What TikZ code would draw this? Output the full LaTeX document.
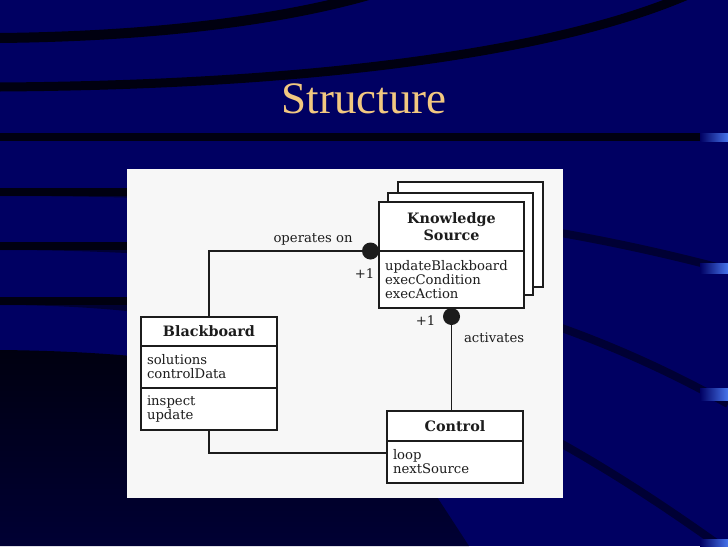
\documentclass[tikz,border=0pt]{standalone}
\usepackage{fontspec}
\setmainfont{Liberation Serif}
\newfontfamily\umlfont{DejaVu Serif}
\usepackage{xcolor}
\usetikzlibrary{positioning, calc}

\newlength\pxu
\setlength\pxu{0.025cm}

\pgfdeclarelayer{slide}
\pgfdeclarelayer{stack}
\pgfsetlayers{slide,stack,main}

\definecolor{slidenavy}{RGB}{0,0,98}
\definecolor{slideband}{RGB}{0,0,16}
\definecolor{slidefade}{RGB}{0,0,52}
\definecolor{slideglow}{RGB}{70,115,235}
\definecolor{titlegold}{RGB}{242,200,128}
\definecolor{umlink}{RGB}{28,28,28}
\definecolor{paper}{RGB}{247,247,247}

\begin{document}
\begin{tikzpicture}[
        x=1\pxu, y=-1\pxu,
        classname/.style={rectangle, draw=umlink, fill=white, line width=1.2pt, inner sep=0pt, outer sep=0pt, minimum width=#1, minimum height=29\pxu, align=center, text=umlink, font=\umlfont\bfseries\fontsize{10.2}{12.5}\selectfont},
        classpart/.style={rectangle, draw=umlink, fill=white, line width=1.2pt, outer sep=0pt, inner xsep=6\pxu, inner ysep=0pt, text width=#1, align=left, text=umlink, font=\umlfont\fontsize{9.4}{10}\selectfont},
        ksstack/.style={draw=umlink, fill=white, line width=1.2pt},
        assocdot/.style={circle, fill=umlink, inner sep=0pt, outer sep=0pt, minimum size=17\pxu},
        assocline/.style={draw=umlink, line width=1.2pt},
        linklabel/.style={text=umlink, font=\umlfont\fontsize{9.4}{10}\selectfont}
    ]
        \useasboundingbox (0,0) rectangle (728,546);

        % Slide background
        \begin{pgfonlayer}{slide}
            \clip (0,0) rectangle (728,546);
            \fill[slidenavy] (0,0) rectangle (728,546);
            \draw[slideband, line width=10\pxu] (0,38) .. controls (180,36) and (300,15) .. (372,-6);
            \draw[slideband, line width=9\pxu] (0,87) .. controls (300,85) and (550,55) .. (690,-6);
            \draw[slideband, line width=8\pxu] (0,137) -- (728,137);
            \draw[slidefade, line width=8\pxu] (0,192) .. controls (350,192) and (560,225) .. (728,270);
            \draw[slidefade, line width=8\pxu] (0,246) .. controls (350,246) and (560,310) .. (728,404);
            \draw[slidefade, line width=8\pxu] (0,301) .. controls (350,301) and (560,430) .. (740,560);
            \draw[slideband, line width=8\pxu] (0,192) -- (130,192) (0,246) -- (130,246) (0,301) -- (130,301);
            \shade[top color=slideband, bottom color=slidefade] (0,350) .. controls (200,352) and (330,380) .. (400,440) -- (469,546) -- (0,546) -- cycle;
            \shade[left color=slidenavy, right color=slideglow] (700,133) rectangle (728,141);
            \shade[left color=slidenavy, right color=slideglow] (700,263) rectangle (728,273);
            \shade[left color=slidenavy, right color=slideglow] (700,388) rectangle (728,400);
            \shade[left color=slidenavy, right color=slideglow] (700,539) rectangle (728,546);
            \fill[paper] (127,169) rectangle (563,498);
        \end{pgfonlayer}

        % Title
        \node[anchor=base, text=titlegold, font=\fontsize{32}{36}\selectfont] (title) at (364,113) {Structure};

        % Blackboard class
        \node[classname=136\pxu] (bbname) at (209,331.5) {Blackboard};
        \node[classpart=124\pxu, minimum height=42\pxu, below=0pt of bbname] (bbattr) {solutions\\controlData};
        \node[classpart=124\pxu, minimum height=42\pxu, below=0pt of bbattr] (bbops) {inspect\\update};

        % Knowledge Source class
        \node[classname=145\pxu, minimum height=49\pxu] (ksname) at (451.5,226.5) {Knowledge\\Source};
        \node[classpart=133\pxu, minimum height=57\pxu, below=0pt of ksname] (ksops) {updateBlackboard\\execCondition\\execAction};
        \begin{pgfonlayer}{stack}
            \draw[ksstack] ($(ksname.north west)+(19,-20)$) rectangle ($(ksops.south east)+(19,-21)$);
            \draw[ksstack] ($(ksname.north west)+(9,-9)$) rectangle ($(ksops.south east)+(9,-13)$);
        \end{pgfonlayer}

        % Control class
        \node[classname=136\pxu, minimum height=30\pxu] (ctrlname) at (455,426) {Control};
        \node[classpart=124\pxu, minimum height=42\pxu, below=0pt of ctrlname] (ctrlops) {loop\\nextSource};

        % Associations
        \node[assocdot, left=0pt of ksname.south west] (dotops) {};
        \node[assocdot, below=0pt of ksops.south] (dotact) {};
        \draw[assocline] (bbname.north) |- node[linklabel, pos=0.84, above] {operates on} (dotops);
        \draw[assocline] (dotact) -- node[linklabel, pos=0.15, right=7\pxu] {activates} (dotact |- ctrlname.north);
        \draw[assocline] (bbops.south) |- ($(ctrlops.north west)!0.29!(ctrlops.south west)$);
        \node[linklabel] (multops) at ($(dotops)+(-6,23)$) {+1};
        \node[linklabel] (multact) at ($(dotact)+(-26,4)$) {+1};
    \end{tikzpicture}
\end{document}
